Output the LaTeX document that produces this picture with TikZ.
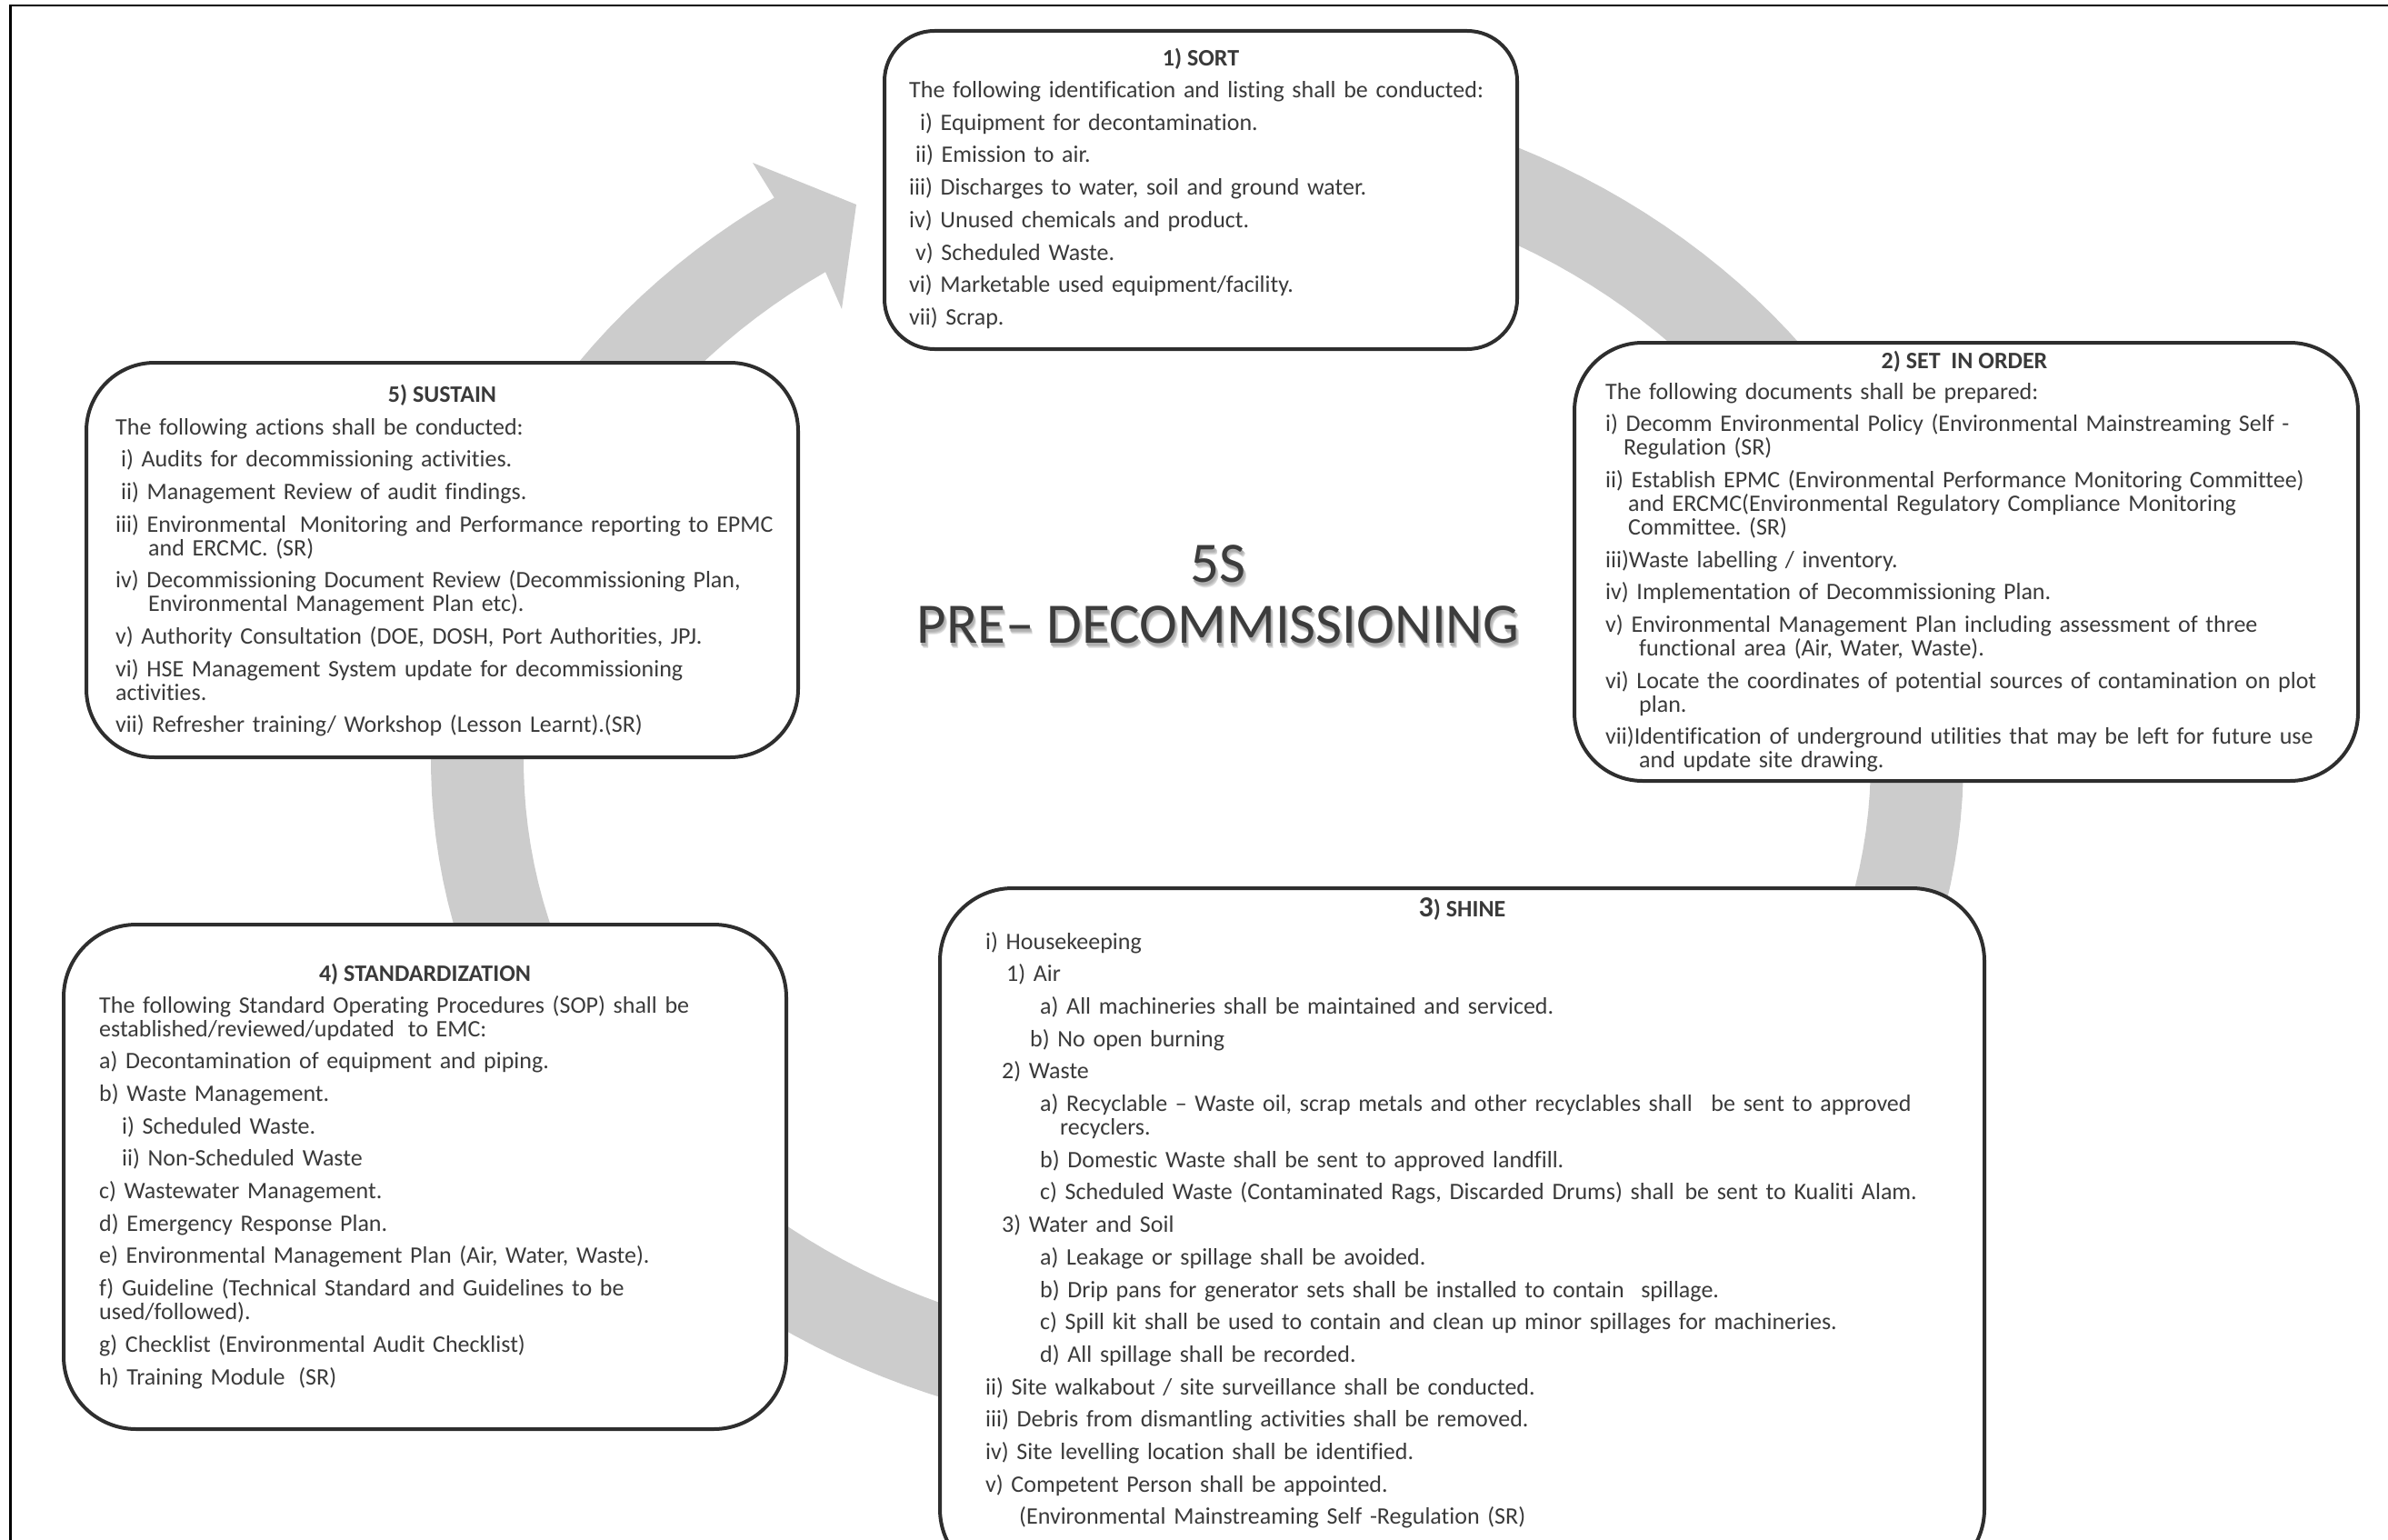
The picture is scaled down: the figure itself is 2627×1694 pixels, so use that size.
\documentclass[tikz,border=0pt]{standalone}
\usepackage{fontspec}
\setmainfont{Carlito}[Ligatures={TeX,NoCommon}]
\definecolor{ink}{HTML}{3A3A3A}
\definecolor{titleink}{HTML}{3C3C3C}
\definecolor{edge}{HTML}{2E2E2E}
\definecolor{ringgray}{HTML}{CCCCCC}
% paragraph spacing inside the list boxes
\newcommand\bodyset{\frenchspacing\setlength\parskip{9.7pt}\lineskiplimit=-60pt\relax}
% first-line offset and hanging indent of wrapped lines
\newcommand\firstin[1]{\leavevmode\hspace*{#1pt}}
\newcommand\restin[1]{\hangindent=#1pt\hangafter=1\relax}
\newcommand\gap[1]{\hspace{#1pt}}
% text with a soft drop shadow built from stacked grey copies
\newcommand\shadowed[1]{%
  \rlap{\hspace*{3pt}\raisebox{-6pt}{\color[HTML]{E6E6E6}#1}}%
  \rlap{\hspace*{2.5pt}\raisebox{-5pt}{\color[HTML]{D2D2D2}#1}}%
  \rlap{\hspace*{2pt}\raisebox{-4pt}{\color[HTML]{BEBEBE}#1}}%
  \rlap{\hspace*{1pt}\raisebox{-3pt}{\color[HTML]{B0B0B0}#1}}%
  #1}
\tikzset{
  panel/.style={draw=edge, line width=4pt, fill=white},
  heading/.style={anchor=base, inner sep=0pt, text=ink,
    font=\fontsize{26pt}{26pt}\selectfont\bfseries},
  bodytext/.style={anchor=base west, inner sep=0pt, text=ink, text width=#1,
    align=left, font=\fontsize{26pt}{26pt}\selectfont},
  bigtitle/.style={anchor=center, inner sep=0pt, text=titleink,
    font=\fontsize{63pt}{63pt}\selectfont},
}
\begin{document}
\begin{tikzpicture}[x=1pt,y=-1pt]
\useasboundingbox (0,0) rectangle (2627,1694);
\clip (0,0) rectangle (2627,1694);

% circular flow arrow behind the five stages
\fill[ringgray]
  plot[domain=-95:236.5, samples=180, variable=\t] ({1317+843*cos(\t)},{837+743*sin(\t)})
  -- (828,179) -- (942,225) -- (926,340)
  -- plot[domain=236.5:-95, samples=180, variable=\t] ({1317+741*cos(\t)},{837+645*sin(\t)})
  -- cycle;

% stage panels
\node[panel, minimum width=696pt, minimum height=350pt, rounded corners=55pt] (sort) at (1321,209) {};
\node[panel, minimum width=862pt, minimum height=482pt, rounded corners=75pt] (setorder) at (2163,618) {};
\node[panel, minimum width=783pt, minimum height=434pt, rounded corners=75pt] (sustain) at (486.5,616) {};
\node[panel, minimum width=795pt, minimum height=555pt, rounded corners=80pt] (standard) at (467.5,1294.5) {};
\node[panel, minimum width=1149pt, minimum height=763pt, rounded corners=80pt] (shine) at (1608.5,1358.5) {};

% 1) SORT
\node[heading] (sorthead) at (1321,72.5) {1) SORT};
\node[bodytext=680pt] (sorttext) at (1000,107.5) {\bodyset
The following identification and listing shall be conducted:\par
\firstin{12}i) Equipment for decontamination.\par
\firstin{7}ii) Emission to air.\par
iii) Discharges to water, soil and ground water.\par
iv) Unused chemicals and product.\par
\firstin{7}v) Scheduled Waste.\par
vi) Marketable used equipment/facility.\par
vii) Scrap.\par};

% 2) SET IN ORDER
\node[heading] (sethead) at (2161,405.5) {2) SET\ \ IN ORDER};
\node[bodytext=820pt] (settext) at (1766,439) {\bodyset
The following documents shall be prepared:\par
\restin{20}i) Decomm Environmental Policy (Environmental Mainstreaming Self -\newline Regulation (SR)\par
\restin{25}ii) Establish EPMC (Environmental Performance Monitoring Committee)\newline and ERCMC(Environmental Regulatory Compliance Monitoring\newline Committee. (SR)\par
iii)Waste labelling / inventory.\par
iv) Implementation of Decommissioning Plan.\par
\restin{37}v) Environmental Management Plan including assessment of three\newline functional area (Air, Water, Waste).\par
\restin{37}vi) Locate the coordinates of potential sources of contamination on plot\newline plan.\par
\restin{37}vii)Identification of underground utilities that may be left for future use\newline and update site drawing.\par};

% 5) SUSTAIN
\node[heading] (sustainhead) at (486.5,442.5) {5) SUSTAIN};
\node[bodytext=740pt] (sustaintext) at (127,478) {\bodyset
The following actions shall be conducted:\par
\firstin{6}i) Audits for decommissioning activities.\par
\firstin{6}ii) Management Review of audit findings.\par
\restin{36}iii) Environmental\gap{6} Monitoring and Performance reporting to EPMC\newline and ERCMC. (SR)\par
\restin{36}iv) Decommissioning Document Review (Decommissioning Plan,\newline Environmental Management Plan etc).\par
v) Authority Consultation (DOE, DOSH, Port Authorities, JPJ.\par
vi) HSE Management System update for decommissioning\newline activities.\par
vii) Refresher training/ Workshop (Lesson Learnt).(SR)\par};

% 4) STANDARDIZATION
\node[heading] (standardhead) at (467.5,1079.5) {4) STANDARDIZATION};
\node[bodytext=730pt] (standardtext) at (109,1114) {\bodyset
The following Standard Operating Procedures (SOP) shall be\newline established/reviewed/updated\gap{6} to EMC:\par
a) Decontamination of equipment and piping.\par
b) Waste Management.\par
\firstin{25}i) Scheduled Waste.\par
\firstin{25}ii) Non-Scheduled Waste\par
c) Wastewater Management.\par
d) Emergency Response Plan.\par
e) Environmental Management Plan (Air, Water, Waste).\par
f) Guideline (Technical Standard and Guidelines to be\newline used/followed).\par
g) Checklist (Environmental Audit Checklist)\par
h) Training Module\gap{6} (SR)\par};

% 3) SHINE
\node[heading] (shinehead) at (1608.5,1008.5) {{\fontsize{32pt}{32pt}\selectfont 3}) SHINE};
\node[bodytext=1070pt] (shinetext) at (1084,1044) {\bodyset
i) Housekeeping\par
\firstin{23}1) Air\par
\firstin{60}a) All machineries shall be maintained and serviced.\par
\firstin{49}b) No open burning\par
\firstin{18}2) Waste\par
\restin{82}\firstin{60}a) Recyclable – Waste oil, scrap metals and other recyclables shall\gap{12} be sent to approved\newline recyclers.\par
\firstin{60}b) Domestic Waste shall be sent to approved landfill.\par
\firstin{60}c) Scheduled Waste (Contaminated Rags, Discarded Drums) shall\gap{3} be sent to Kualiti Alam.\par
\firstin{18}3) Water and Soil\par
\firstin{60}a) Leakage or spillage shall be avoided.\par
\firstin{60}b) Drip pans for generator sets shall be installed to contain\gap{10} spillage.\par
\firstin{60}c) Spill kit shall be used to contain and clean up minor spillages for machineries.\par
\firstin{60}d) All spillage shall be recorded.\par
ii) Site walkabout / site surveillance shall be conducted.\par
iii) Debris from dismantling activities shall be removed.\par
iv) Site levelling location shall be identified.\par
v) Competent Person shall be appointed.\par
\firstin{37}(Environmental Mainstreaming Self -Regulation (SR)\par};

% centre title
\node[bigtitle] (fives) at (1340,623) {\shadowed{5S}};
\node[bigtitle] (predecom) at (1340,690) {\shadowed{PRE– DECOMMISSIONING}};

% page frame (top and left edges)
\draw[line width=2.5pt, black] (11.5,1694) -- (11.5,6) -- (2627,6);
\end{tikzpicture}
\end{document}
